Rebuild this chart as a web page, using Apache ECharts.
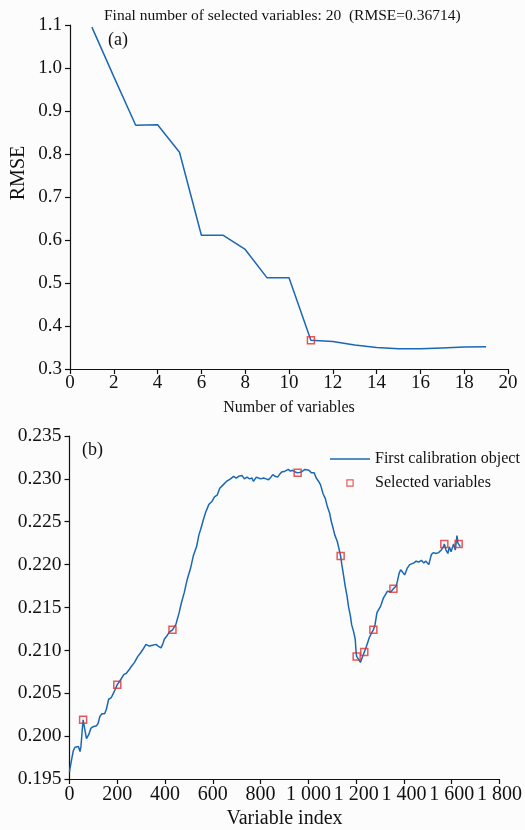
<!DOCTYPE html>
<html><head><meta charset="utf-8">
<script src="https://cdn.jsdelivr.net/npm/echarts@6/dist/echarts.min.js"></script>
<style>html,body{margin:0;padding:0;background:#fcfcfc}#c{width:525px;height:830px}</style>
</head><body><div id="c"></div>
<script>
// ---- Panel (a) ----
const nVars = [1,2,3,4,5,6,7,8,9,10,11,12,13,14,15,16,17,18,19];
const rmse  = [1.095,0.980,0.867,0.868,0.804,0.611,0.611,0.578,0.512,0.512,0.367,0.364,0.356,0.350,0.347,0.347,0.349,0.351,0.352];
const bestN = [11];
const bestRmse = [0.367];
const titleText = 'Final number of selected variables: 20  (RMSE=0.36714)';

// ---- Panel (b) ----
const spectrumIdx = [0,2,9,16,23,30,37,44,48,53,57,64,71,76,81,89,99,113,120,127,136,147,154,164,175,182,192,200,210,217,228,237,244,251,258,265,272,279,286,297,307,320,327,334,341,348,355,362,371,383,390,397,408,417,431,438,445,452,459,468,480,493,507,518,532,542,549,560,570,583,597,607,618,629,643,657,674,687,698,708,715,722,732,743,754,764,770,782,791,801,812,823,833,843,851,861,871,879,888,902,916,925,934,945,955,971,985,992,1002,1013,1024,1033,1043,1051,1061,1071,1079,1089,1096,1103,1110,1121,1126,1135,1140,1148,1154,1162,1168,1176,1181,1190,1196,1200,1202,1209,1218,1223,1234,1241,1248,1255,1264,1272,1279,1287,1292,1303,1314,1320,1331,1345,1356,1368,1380,1386,1395,1403,1414,1424,1432,1442,1451,1462,1473,1483,1492,1504,1515,1524,1534,1545,1556,1566,1569,1576,1584,1590,1597,1604,1608,1615,1622,1626,1629,1636];
const spectrumVal = [0.1958,0.1962,0.1973,0.1983,0.1987,0.1985,0.1988,0.1982,0.1988,0.2006,0.2019,0.2008,0.1997,0.1995,0.2002,0.2009,0.2011,0.2012,0.2015,0.2023,0.2026,0.2026,0.2031,0.2043,0.2045,0.2049,0.2055,0.2060,0.2064,0.2065,0.2072,0.2073,0.2072,0.2078,0.2081,0.2080,0.2086,0.2087,0.2093,0.2097,0.2101,0.2107,0.2108,0.2105,0.2103,0.2106,0.2108,0.2107,0.2105,0.2103,0.2107,0.2113,0.2117,0.2121,0.2124,0.2126,0.2130,0.2137,0.2144,0.2155,0.2167,0.2183,0.2196,0.2210,0.2221,0.2235,0.2241,0.2252,0.2261,0.2270,0.2274,0.2279,0.2281,0.2289,0.2293,0.2297,0.2300,0.2303,0.2301,0.2303,0.2302,0.2304,0.2300,0.2302,0.2300,0.2301,0.2297,0.2302,0.2301,0.2300,0.2301,0.2300,0.2299,0.2302,0.2305,0.2303,0.2302,0.2305,0.2308,0.2309,0.2311,0.2309,0.2310,0.2308,0.2307,0.2308,0.2311,0.2312,0.2310,0.2307,0.2307,0.2301,0.2297,0.2293,0.2283,0.2277,0.2268,0.2260,0.2250,0.2243,0.2235,0.2227,0.2221,0.2210,0.2200,0.2186,0.2175,0.2163,0.2151,0.2140,0.2130,0.2121,0.2113,0.2097,0.2093,0.2090,0.2086,0.2090,0.2098,0.2103,0.2109,0.2115,0.2120,0.2124,0.2130,0.2144,0.2143,0.2152,0.2161,0.2159,0.2169,0.2168,0.2172,0.2175,0.2190,0.2194,0.2191,0.2188,0.2196,0.2200,0.2198,0.2202,0.2204,0.2203,0.2205,0.2202,0.2204,0.2200,0.2212,0.2214,0.2213,0.2214,0.2217,0.2221,0.2224,0.2217,0.2213,0.2221,0.2215,0.2214,0.2224,0.2217,0.2234,0.2225,0.2224,0.2221];
const selectedIdx = [57,200,431,955,1135,1202,1234,1272,1356,1569,1629];
const selectedVal = [0.2019,0.2060,0.2124,0.2307,0.2210,0.2093,0.2098,0.2124,0.2172,0.2224,0.2224];

const FONT = '"Liberation Serif","Times New Roman",serif';
const BLUE = '#1a68b5';
const RED = '#e0302f';
const zip = (a,b)=>a.map((v,i)=>[v,b[i]]);
const fmtThousand = v => { const s = String(Math.round(v)); return s.length>3 ? s.slice(0,s.length-3)+' '+s.slice(-3) : s; };

const axisCommon = {
  axisLine:{show:true,lineStyle:{color:'#111',width:1.2}},
  axisTick:{show:true,inside:false,length:5,lineStyle:{color:'#111',width:1.2}},
  splitLine:{show:false},
};

const chart = echarts.init(document.getElementById('c'), null, {renderer:'canvas'});
chart.setOption({
  backgroundColor:'#fcfcfc',
  animation:false,
  textStyle:{fontFamily:FONT,color:'#111'},
  grid:[
    {left:70, top:25, width:438, height:344},
    {left:69.5, top:436, width:433.5, height:344}
  ],
  xAxis:[
    Object.assign({gridIndex:0,type:'value',min:0,max:20,interval:2,
      name:'Number of variables',nameLocation:'middle',nameGap:31,
      nameTextStyle:{fontFamily:FONT,fontSize:16,color:'#111'},
      axisLabel:{fontFamily:FONT,fontSize:19,color:'#111',margin:5}},axisCommon),
    Object.assign({gridIndex:1,type:'value',min:0,max:1800,interval:200,
      name:'Variable index',nameLocation:'middle',nameGap:30,
      nameTextStyle:{fontFamily:FONT,fontSize:20,color:'#111'},
      axisLabel:{fontFamily:FONT,fontSize:20,color:'#111',margin:6,formatter:fmtThousand,hideOverlap:false}},axisCommon)
  ],
  yAxis:[
    Object.assign({gridIndex:0,type:'value',min:0.3,max:1.1,interval:0.1,
      axisLabel:{fontFamily:FONT,fontSize:19,color:'#111',margin:8,formatter:v=>v.toFixed(1)}},axisCommon),
    Object.assign({gridIndex:1,type:'value',min:0.195,max:0.235,interval:0.005,
      axisLabel:{fontFamily:FONT,fontSize:19.5,color:'#111',margin:8,formatter:v=>v.toFixed(3)}},axisCommon)
  ],
  legend:{
    orient:'vertical', left:330, top:451, padding:0, itemWidth:40, itemHeight:14, itemGap:8,
    symbolKeepAspect:true,
    textStyle:{fontFamily:FONT,fontSize:16,color:'#111'},
    data:[
      {name:'First calibration object',icon:'path://M0,0H40V1.6H0Z',itemStyle:{color:BLUE,borderWidth:0}},
      {name:'Selected variables',icon:'path://M-4.5,-4.5L-4.5,-4.5ZM14.5,14.5L14.5,14.5ZM0,0H10V10H0ZM1.6,1.6V8.4H8.4V1.6Z',itemStyle:{color:RED,borderWidth:0}}
    ]
  },
  graphic:[
    {type:'text',left:104,top:8,style:{text:titleText,font:'15.5px '+FONT,fill:'#111'}},
    {type:'text',left:108,top:31,style:{text:'(a)',font:'18px '+FONT,fill:'#111'}},
    {type:'text',left:82,top:441,style:{text:'(b)',font:'18px '+FONT,fill:'#111'}},
    {type:'text',x:19,y:173,rotation:Math.PI/2,style:{text:'RMSE',font:'20px '+FONT,fill:'#111',align:'center',verticalAlign:'middle'}}
  ],
  series:[
    {type:'line',xAxisIndex:0,yAxisIndex:0,data:zip(nVars,rmse),symbol:'none',lineStyle:{color:BLUE,width:1.5},z:2},
    {type:'scatter',xAxisIndex:0,yAxisIndex:0,data:zip(bestN,bestRmse),symbol:'rect',symbolSize:7,
      itemStyle:{color:'rgba(0,0,0,0)',borderColor:RED,borderWidth:1.5},z:3},
    {name:'First calibration object',type:'line',xAxisIndex:1,yAxisIndex:1,data:zip(spectrumIdx,spectrumVal),symbol:'none',
      lineStyle:{color:BLUE,width:1.5},itemStyle:{color:BLUE},z:2},
    {name:'Selected variables',type:'scatter',xAxisIndex:1,yAxisIndex:1,data:zip(selectedIdx,selectedVal),symbol:'rect',symbolSize:7,
      itemStyle:{color:'rgba(0,0,0,0)',borderColor:RED,borderWidth:1.5},z:3}
  ]
});
</script></body></html>
